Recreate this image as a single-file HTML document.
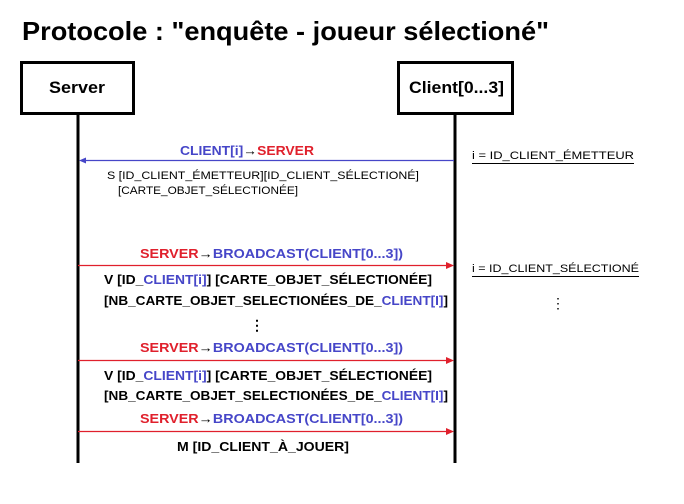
<!DOCTYPE html>
<html><head><meta charset="utf-8"><style>
body{margin:0;background:#fff}
svg{display:block}
text{font-family:"Liberation Sans",sans-serif;font-weight:bold}
.b{fill:#4646c8}.r{fill:#e0202c}.k{fill:#000}
</style></head><body>
<svg width="684" height="504" viewBox="0 0 684 504" xmlns="http://www.w3.org/2000/svg">
<text x="22" y="40" font-size="26" textLength="527" lengthAdjust="spacingAndGlyphs">Protocole : "enquête - joueur sélectioné"</text>
<rect x="21.5" y="62.5" width="112" height="51" fill="#fff" stroke="#000" stroke-width="3"/>
<rect x="398.5" y="62.5" width="114" height="51" fill="#fff" stroke="#000" stroke-width="3"/>
<text x="49" y="93" font-size="17" textLength="56" lengthAdjust="spacingAndGlyphs">Server</text>
<text x="409" y="93" font-size="17" textLength="95" lengthAdjust="spacingAndGlyphs">Client[0...3]</text>
<line x1="78" y1="114" x2="78" y2="463" stroke="#000" stroke-width="3"/>
<line x1="455" y1="114" x2="455" y2="463" stroke="#000" stroke-width="3"/>

<!-- blue message -->
<text x="180" y="155" font-size="13" textLength="134" lengthAdjust="spacingAndGlyphs"><tspan class="b">CLIENT[i]</tspan><tspan class="k">→</tspan><tspan class="r">SERVER</tspan></text>
<line x1="84" y1="160.5" x2="454" y2="160.5" stroke="#4646c8" stroke-width="1.2"/>
<polygon points="79,160.5 86,157.5 86,163.5" fill="#4646c8"/>
<text x="107" y="179" font-size="11" font-weight="normal" style="font-weight:normal" textLength="312" lengthAdjust="spacingAndGlyphs">S [ID_CLIENT_ÉMETTEUR][ID_CLIENT_SÉLECTIONÉ]</text>
<text x="118" y="194" font-size="11" style="font-weight:normal" textLength="180" lengthAdjust="spacingAndGlyphs">[CARTE_OBJET_SÉLECTIONÉE]</text>

<!-- broadcast 1 -->
<text x="140" y="258" font-size="13" textLength="263" lengthAdjust="spacingAndGlyphs"><tspan class="r">SERVER</tspan><tspan class="k">→</tspan><tspan class="b">BROADCAST(CLIENT[0...3])</tspan></text>
<line x1="78" y1="265.5" x2="448" y2="265.5" stroke="#e0202c" stroke-width="1.2"/>
<polygon points="454,265.5 446,262 446,269" fill="#e0202c"/>
<text x="104" y="284" font-size="13" textLength="328" lengthAdjust="spacingAndGlyphs">V [ID_<tspan class="b">CLIENT[i]</tspan>]  [CARTE_OBJET_SÉLECTIONÉE]</text>
<text x="104" y="305" font-size="13" textLength="344" lengthAdjust="spacingAndGlyphs">[NB_CARTE_OBJET_SELECTIONÉES_DE_<tspan class="b">CLIENT[I]</tspan>]</text>
<text x="250" y="330" font-size="14">⋮</text>

<!-- broadcast 2 -->
<text x="140" y="352" font-size="13" textLength="263" lengthAdjust="spacingAndGlyphs"><tspan class="r">SERVER</tspan><tspan class="k">→</tspan><tspan class="b">BROADCAST(CLIENT[0...3])</tspan></text>
<line x1="78" y1="360.5" x2="448" y2="360.5" stroke="#e0202c" stroke-width="1.2"/>
<polygon points="454,360.5 446,357 446,364" fill="#e0202c"/>
<text x="104" y="380" font-size="13" textLength="328" lengthAdjust="spacingAndGlyphs">V [ID_<tspan class="b">CLIENT[i]</tspan>]  [CARTE_OBJET_SÉLECTIONÉE]</text>
<text x="104" y="400" font-size="13" textLength="344" lengthAdjust="spacingAndGlyphs">[NB_CARTE_OBJET_SELECTIONÉES_DE_<tspan class="b">CLIENT[I]</tspan>]</text>

<!-- broadcast 3 -->
<text x="140" y="423" font-size="13" textLength="263" lengthAdjust="spacingAndGlyphs"><tspan class="r">SERVER</tspan><tspan class="k">→</tspan><tspan class="b">BROADCAST(CLIENT[0...3])</tspan></text>
<line x1="78" y1="431.5" x2="448" y2="431.5" stroke="#e0202c" stroke-width="1.2"/>
<polygon points="454,431.5 446,428 446,435" fill="#e0202c"/>
<text x="177" y="451" font-size="13" textLength="172" lengthAdjust="spacingAndGlyphs">M [ID_CLIENT_À_JOUER]</text>

<!-- right notes -->
<text x="472" y="159" font-size="11" style="font-weight:normal" textLength="162" lengthAdjust="spacingAndGlyphs">i = ID_CLIENT_ÉMETTEUR</text>
<line x1="472" y1="163.5" x2="634" y2="163.5" stroke="#000" stroke-width="1"/>
<text x="472" y="272" font-size="11" style="font-weight:normal" textLength="167" lengthAdjust="spacingAndGlyphs">i = ID_CLIENT_SÉLECTIONÉ</text>
<line x1="472" y1="276.5" x2="639" y2="276.5" stroke="#000" stroke-width="1"/>
<text x="551" y="308" font-size="14" style="font-weight:normal">⋮</text>
</svg>
</body></html>
